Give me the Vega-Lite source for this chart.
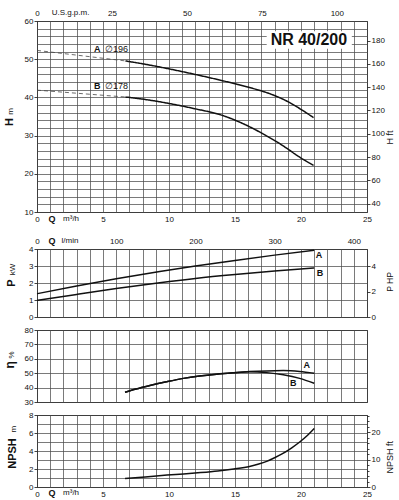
{
  "$schema": "https://vega.github.io/schema/vega-lite/v6.json",
  "background": "white",
  "padding": {"left": 3, "top": 8, "right": 5, "bottom": 5},
  "config": {
    "font": "Liberation Sans",
    "view": {"stroke": "#111", "strokeWidth": 1},
    "axis": {"domain": false, "labelFontSize": 8, "labelColor": "#111", "gridColor": "#4d4d4d", "gridWidth": 0.75, "tickColor": "#111", "tickWidth": 0.8, "tickSize": 3, "labelPadding": 1},
    "text": {"color": "#111"}
  },
  "datasets": {
    "head": [
      {"curve": "A", "part": "ext", "q": 0, "h": 52.3},
      {"curve": "A", "part": "ext", "q": 6.7, "h": 49.55},
      {"curve": "A", "part": "test", "q": 6.7, "h": 49.55},
      {"curve": "A", "part": "test", "q": 8.4, "h": 48.55},
      {"curve": "A", "part": "test", "q": 10.1, "h": 47.4},
      {"curve": "A", "part": "test", "q": 12, "h": 46.0},
      {"curve": "A", "part": "test", "q": 13.9, "h": 44.5},
      {"curve": "A", "part": "test", "q": 15.2, "h": 43.4},
      {"curve": "A", "part": "test", "q": 16.4, "h": 42.3},
      {"curve": "A", "part": "test", "q": 17.4, "h": 41.25},
      {"curve": "A", "part": "test", "q": 18.2, "h": 40.2},
      {"curve": "A", "part": "test", "q": 19.0, "h": 38.9},
      {"curve": "A", "part": "test", "q": 19.7, "h": 37.5},
      {"curve": "A", "part": "test", "q": 20.3, "h": 36.2},
      {"curve": "A", "part": "test", "q": 20.95, "h": 34.7},
      {"curve": "B", "part": "ext", "q": 0, "h": 41.9},
      {"curve": "B", "part": "ext", "q": 6.7, "h": 40.1},
      {"curve": "B", "part": "test", "q": 6.7, "h": 40.1},
      {"curve": "B", "part": "test", "q": 8.4, "h": 39.35},
      {"curve": "B", "part": "test", "q": 10.1, "h": 38.35},
      {"curve": "B", "part": "test", "q": 12, "h": 37.0},
      {"curve": "B", "part": "test", "q": 13.9, "h": 35.45},
      {"curve": "B", "part": "test", "q": 15.1, "h": 33.9},
      {"curve": "B", "part": "test", "q": 16.4, "h": 31.8},
      {"curve": "B", "part": "test", "q": 17.3, "h": 30.1},
      {"curve": "B", "part": "test", "q": 18.2, "h": 28.3},
      {"curve": "B", "part": "test", "q": 19.0, "h": 26.5},
      {"curve": "B", "part": "test", "q": 19.7, "h": 24.8},
      {"curve": "B", "part": "test", "q": 20.3, "h": 23.5},
      {"curve": "B", "part": "test", "q": 20.95, "h": 22.2}
    ],
    "power": [
      {"curve": "A", "q": 0, "p": 1.37},
      {"curve": "A", "q": 3, "p": 1.82},
      {"curve": "A", "q": 6, "p": 2.25},
      {"curve": "A", "q": 9.3, "p": 2.68},
      {"curve": "A", "q": 12, "p": 3.0},
      {"curve": "A", "q": 15, "p": 3.33},
      {"curve": "A", "q": 18, "p": 3.64},
      {"curve": "A", "q": 21, "p": 3.92},
      {"curve": "B", "q": 0, "p": 0.98},
      {"curve": "B", "q": 3, "p": 1.33},
      {"curve": "B", "q": 6, "p": 1.67},
      {"curve": "B", "q": 9.3, "p": 2.02},
      {"curve": "B", "q": 12, "p": 2.27},
      {"curve": "B", "q": 15, "p": 2.5},
      {"curve": "B", "q": 18, "p": 2.7},
      {"curve": "B", "q": 21, "p": 2.88}
    ],
    "eff": [
      {"curve": "A", "q": 6.67, "e": 36.8},
      {"curve": "A", "q": 7.5, "e": 39.0},
      {"curve": "A", "q": 8.55, "e": 41.4},
      {"curve": "A", "q": 9.8, "e": 44.0},
      {"curve": "A", "q": 11.1, "e": 46.4},
      {"curve": "A", "q": 12.3, "e": 48.0},
      {"curve": "A", "q": 13.6, "e": 49.3},
      {"curve": "A", "q": 14.9, "e": 50.3},
      {"curve": "A", "q": 16.1, "e": 51.1},
      {"curve": "A", "q": 17.4, "e": 51.6},
      {"curve": "A", "q": 18.66, "e": 51.8},
      {"curve": "A", "q": 19.9, "e": 51.2},
      {"curve": "A", "q": 21.0, "e": 50.0},
      {"curve": "B", "q": 6.67, "e": 36.8},
      {"curve": "B", "q": 7.5, "e": 39.0},
      {"curve": "B", "q": 8.55, "e": 41.4},
      {"curve": "B", "q": 9.8, "e": 44.0},
      {"curve": "B", "q": 11.1, "e": 46.4},
      {"curve": "B", "q": 12.3, "e": 48.0},
      {"curve": "B", "q": 13.6, "e": 49.3},
      {"curve": "B", "q": 14.9, "e": 50.3},
      {"curve": "B", "q": 16.1, "e": 51.0},
      {"curve": "B", "q": 17.4, "e": 50.4},
      {"curve": "B", "q": 18.66, "e": 48.9},
      {"curve": "B", "q": 19.9, "e": 46.4},
      {"curve": "B", "q": 21.0, "e": 43.0}
    ],
    "npsh": [
      {"q": 6.67, "n": 0.94},
      {"q": 8.2, "n": 1.12},
      {"q": 9.85, "n": 1.32},
      {"q": 11.1, "n": 1.45},
      {"q": 12.4, "n": 1.6},
      {"q": 13.7, "n": 1.78},
      {"q": 14.9, "n": 2.0},
      {"q": 16.1, "n": 2.28},
      {"q": 16.8, "n": 2.55},
      {"q": 17.4, "n": 2.85},
      {"q": 18.0, "n": 3.25},
      {"q": 18.6, "n": 3.7},
      {"q": 19.3, "n": 4.35},
      {"q": 19.9, "n": 5.0},
      {"q": 20.5, "n": 5.75},
      {"q": 21.0, "n": 6.5}
    ]
  },
  "spacing": 37,
  "bounds": "flush",
  "vconcat": [
    {
      "width": 330,
      "height": 191,
      "resolve": {"scale": {"x": "independent", "y": "independent"}},
      "layer": [
        {
          "data": {"values": [{}]},
          "layer": [
            {"mark": {"type": "rect", "fill": "white"}, "encoding": {"x": {"datum": 17.4, "type": "quantitative", "axis": null}, "x2": {"datum": 23.85}, "y": {"datum": 52.75, "type": "quantitative", "axis": null}, "y2": {"datum": 57.3}}},
            {
              "data": {"name": "head"},
              "mark": {"type": "line", "interpolate": "monotone"},
              "encoding": {
                "x": {"field": "q", "type": "quantitative", "scale": {"domain": [0, 25], "nice": false, "zero": false}, "axis": null},
                "y": {"field": "h", "type": "quantitative", "scale": {"domain": [10, 60], "nice": false, "zero": false}, "axis": null},
                "detail": {"field": "curve", "type": "nominal"},
                "strokeDash": {"field": "part", "type": "nominal", "scale": {"domain": ["test", "ext"], "range": [[1, 0], [4, 3]]}, "legend": null},
                "strokeWidth": {"field": "part", "type": "nominal", "scale": {"domain": ["test", "ext"], "range": [1.5, 0.8]}, "legend": null},
                "color": {"field": "part", "type": "nominal", "scale": {"domain": ["test", "ext"], "range": ["#111111", "#444444"]}, "legend": null}
              }
            },
            {"mark": {"type": "text", "text": "NR 40/200", "fontSize": 16, "fontWeight": "bold", "align": "center", "baseline": "middle"}, "encoding": {"x": {"datum": 20.6, "type": "quantitative", "axis": null}, "y": {"datum": 55.0, "type": "quantitative", "axis": null}}},
            {"mark": {"type": "text", "text": "A", "fontSize": 9, "fontWeight": "bold", "align": "left", "baseline": "middle"}, "encoding": {"x": {"datum": 4.32, "type": "quantitative", "axis": null}, "y": {"datum": 52.75, "type": "quantitative", "axis": null}}},
            {"mark": {"type": "text", "text": "∅196", "fontSize": 9, "align": "left", "baseline": "middle"}, "encoding": {"x": {"datum": 5.15, "type": "quantitative", "axis": null}, "y": {"datum": 52.75, "type": "quantitative", "axis": null}}},
            {"mark": {"type": "text", "text": "B", "fontSize": 9, "fontWeight": "bold", "align": "left", "baseline": "middle"}, "encoding": {"x": {"datum": 4.32, "type": "quantitative", "axis": null}, "y": {"datum": 43.0, "type": "quantitative", "axis": null}}},
            {"mark": {"type": "text", "text": "∅178", "fontSize": 9, "align": "left", "baseline": "middle"}, "encoding": {"x": {"datum": 5.15, "type": "quantitative", "axis": null}, "y": {"datum": 43.0, "type": "quantitative", "axis": null}}},
            {"mark": {"type": "text", "text": "U.S.g.p.m.", "fontSize": 8, "align": "center", "baseline": "middle"}, "encoding": {"x": {"datum": 2.54, "type": "quantitative", "axis": null}, "y": {"datum": 62.1, "type": "quantitative", "axis": null}}},
            {"mark": {"type": "text", "text": "Q", "fontSize": 9, "fontWeight": "bold", "align": "center", "baseline": "middle"}, "encoding": {"x": {"datum": 1.14, "type": "quantitative", "axis": null}, "y": {"datum": 8.1, "type": "quantitative", "axis": null}}},
            {"mark": {"type": "text", "text": "m³/h", "fontSize": 8, "align": "center", "baseline": "middle"}, "encoding": {"x": {"datum": 2.58, "type": "quantitative", "axis": null}, "y": {"datum": 8.1, "type": "quantitative", "axis": null}}},
            {"mark": {"type": "text", "text": "H", "fontSize": 11, "fontWeight": "bold", "align": "center", "baseline": "alphabetic", "angle": 270}, "encoding": {"x": {"datum": -1.84, "type": "quantitative", "axis": null}, "y": {"datum": 33.56, "type": "quantitative", "axis": null}}},
            {"mark": {"type": "text", "text": "m", "fontSize": 8, "align": "center", "baseline": "alphabetic", "angle": 270}, "encoding": {"x": {"datum": -1.84, "type": "quantitative", "axis": null}, "y": {"datum": 36.31, "type": "quantitative", "axis": null}}},
            {"mark": {"type": "text", "text": "H ft", "fontSize": 9, "align": "center", "baseline": "alphabetic", "angle": 270}, "encoding": {"x": {"datum": 26.97, "type": "quantitative", "axis": null}, "y": {"datum": 29.5, "type": "quantitative", "axis": null}}}
          ]
        },
        {
          "data": {"name": "head"},
          "mark": {"type": "point", "opacity": 0},
          "encoding": {
            "x": {"field": "q", "type": "quantitative", "scale": {"domain": [0, 25], "nice": false, "zero": false},
              "axis": {"orient": "bottom", "values": [0,1,2,3,4,5,6,7,8,9,10,11,12,13,14,15,16,17,18,19,20,21,22,23,24,25], "grid": true, "ticks": false, "labelExpr": "datum.value % 5 === 0 ? datum.label : ''", "labelFlush": false, "labelOverlap": false, "labelPadding": 3, "title": null}},
            "y": {"field": "h", "type": "quantitative", "scale": {"domain": [10, 60], "nice": false, "zero": false},
              "axis": {"orient": "left", "values": [10,12,14,16,18,20,22,24,26,28,30,32,34,36,38,40,42,44,46,48,50,52,54,56,58,60], "grid": true, "tickOpacity": {"condition": {"test": "datum.value % 10 === 0", "value": 1}, "value": 0}, "labelExpr": "datum.value % 10 === 0 ? datum.label : ''", "labelOverlap": false, "title": null}}
          }
        },
        {
          "data": {"name": "head"},
          "mark": {"type": "point", "opacity": 0},
          "encoding": {
            "x": {"field": "q", "type": "quantitative", "scale": {"domain": [0, 110.07], "nice": false, "zero": false},
              "axis": {"orient": "top", "values": [0, 25, 50, 75, 100], "grid": false, "ticks": false, "labelFlush": false, "labelOverlap": false, "labelPadding": 4, "title": null}},
            "y": {"field": "h", "type": "quantitative", "scale": {"domain": [32.81, 196.85], "nice": false, "zero": false},
              "axis": {"orient": "right", "values": [40, 60, 80, 100, 120, 140, 160, 180], "grid": false, "labelOverlap": false, "title": null}}
          }
        }
      ]
    },
    {
      "spacing": 13,
      "bounds": "flush",
      "vconcat": [
        {
          "width": 330,
          "height": 68,
          "resolve": {"scale": {"x": "independent", "y": "independent"}},
          "layer": [
            {
              "data": {"values": [{}]},
              "layer": [
                {
                  "data": {"name": "power"},
                  "mark": {"type": "line", "interpolate": "monotone", "color": "#111", "strokeWidth": 1.5},
                  "encoding": {
                    "x": {"field": "q", "type": "quantitative", "scale": {"domain": [0, 25], "nice": false, "zero": false}, "axis": null},
                    "y": {"field": "p", "type": "quantitative", "scale": {"domain": [0, 4], "nice": false, "zero": false}, "axis": null},
                    "detail": {"field": "curve", "type": "nominal"}
                  }
                },
                {"mark": {"type": "text", "text": "Q", "fontSize": 9, "fontWeight": "bold", "align": "center", "baseline": "middle"}, "encoding": {"x": {"datum": 1.14, "type": "quantitative", "axis": null}, "y": {"datum": 4.5, "type": "quantitative", "axis": null}}},
                {"mark": {"type": "text", "text": "l/min", "fontSize": 8, "align": "center", "baseline": "middle"}, "encoding": {"x": {"datum": 2.5, "type": "quantitative", "axis": null}, "y": {"datum": 4.5, "type": "quantitative", "axis": null}}},
                {"mark": {"type": "text", "text": "A", "fontSize": 9, "fontWeight": "bold", "align": "center", "baseline": "middle"}, "encoding": {"x": {"datum": 21.36, "type": "quantitative", "axis": null}, "y": {"datum": 3.65, "type": "quantitative", "axis": null}}},
                {"mark": {"type": "text", "text": "B", "fontSize": 9, "fontWeight": "bold", "align": "center", "baseline": "middle"}, "encoding": {"x": {"datum": 21.44, "type": "quantitative", "axis": null}, "y": {"datum": 2.6, "type": "quantitative", "axis": null}}},
                {"mark": {"type": "text", "text": "P", "fontSize": 11, "fontWeight": "bold", "align": "center", "baseline": "alphabetic", "angle": 270}, "encoding": {"x": {"datum": -1.63, "type": "quantitative", "axis": null}, "y": {"datum": 2.0, "type": "quantitative", "axis": null}}},
                {"mark": {"type": "text", "text": "kW", "fontSize": 8, "align": "center", "baseline": "alphabetic", "angle": 270}, "encoding": {"x": {"datum": -1.63, "type": "quantitative", "axis": null}, "y": {"datum": 2.79, "type": "quantitative", "axis": null}}},
                {"mark": {"type": "text", "text": "P HP", "fontSize": 8.5, "align": "center", "baseline": "alphabetic", "angle": 270}, "encoding": {"x": {"datum": 26.97, "type": "quantitative", "axis": null}, "y": {"datum": 2.06, "type": "quantitative", "axis": null}}}
              ]
            },
            {
              "data": {"name": "power"},
              "mark": {"type": "point", "opacity": 0},
              "encoding": {
                "x": {"field": "q", "type": "quantitative", "scale": {"domain": [0, 25], "nice": false, "zero": false},
                  "axis": {"orient": "bottom", "values": [0,1,2,3,4,5,6,7,8,9,10,11,12,13,14,15,16,17,18,19,20,21,22,23,24,25], "grid": true, "ticks": false, "labels": false, "title": null}},
                "y": {"field": "p", "type": "quantitative", "scale": {"domain": [0, 4], "nice": false, "zero": false},
                  "axis": {"orient": "left", "values": [0, 1, 2, 3, 4], "grid": true, "labelOverlap": false, "title": null}}
              }
            },
            {
              "data": {"name": "power"},
              "mark": {"type": "point", "opacity": 0},
              "encoding": {
                "x": {"field": "q", "type": "quantitative", "scale": {"domain": [0, 416.67], "nice": false, "zero": false},
                  "axis": {"orient": "top", "values": [0, 100, 200, 300, 400], "grid": false, "ticks": false, "labelFlush": false, "labelOverlap": false, "labelPadding": 4, "title": null}},
                "y": {"field": "p", "type": "quantitative", "scale": {"domain": [0, 5.364], "nice": false, "zero": false},
                  "axis": {"orient": "right", "values": [0, 2, 4], "grid": false, "labelOverlap": false, "title": null}}
              }
            }
          ]
        },
        {
          "width": 330,
          "height": 72,
          "resolve": {"scale": {"x": "independent", "y": "independent"}},
          "layer": [
            {
              "data": {"values": [{}]},
              "layer": [
                {
                  "data": {"name": "eff"},
                  "mark": {"type": "line", "interpolate": "monotone", "color": "#111", "strokeWidth": 1.5},
                  "encoding": {
                    "x": {"field": "q", "type": "quantitative", "scale": {"domain": [0, 25], "nice": false, "zero": false}, "axis": null},
                    "y": {"field": "e", "type": "quantitative", "scale": {"domain": [30, 80], "nice": false, "zero": false}, "axis": null},
                    "detail": {"field": "curve", "type": "nominal"}
                  }
                },
                {"mark": {"type": "text", "text": "A", "fontSize": 9, "fontWeight": "bold", "align": "center", "baseline": "middle"}, "encoding": {"x": {"datum": 20.43, "type": "quantitative", "axis": null}, "y": {"datum": 55.7, "type": "quantitative", "axis": null}}},
                {"mark": {"type": "text", "text": "B", "fontSize": 9, "fontWeight": "bold", "align": "center", "baseline": "middle"}, "encoding": {"x": {"datum": 19.42, "type": "quantitative", "axis": null}, "y": {"datum": 43.0, "type": "quantitative", "axis": null}}},
                {"mark": {"type": "text", "text": "η", "fontSize": 12, "fontWeight": "bold", "align": "center", "baseline": "alphabetic", "angle": 270}, "encoding": {"x": {"datum": -1.74, "type": "quantitative", "axis": null}, "y": {"datum": 55.9, "type": "quantitative", "axis": null}}},
                {"mark": {"type": "text", "text": "%", "fontSize": 8, "align": "center", "baseline": "alphabetic", "angle": 270}, "encoding": {"x": {"datum": -1.74, "type": "quantitative", "axis": null}, "y": {"datum": 62.7, "type": "quantitative", "axis": null}}}
              ]
            },
            {
              "data": {"name": "eff"},
              "mark": {"type": "point", "opacity": 0},
              "encoding": {
                "x": {"field": "q", "type": "quantitative", "scale": {"domain": [0, 25], "nice": false, "zero": false},
                  "axis": {"orient": "bottom", "values": [0,1,2,3,4,5,6,7,8,9,10,11,12,13,14,15,16,17,18,19,20,21,22,23,24,25], "grid": true, "ticks": false, "labels": false, "title": null}},
                "y": {"field": "e", "type": "quantitative", "scale": {"domain": [30, 80], "nice": false, "zero": false},
                  "axis": {"orient": "left", "values": [30, 40, 50, 60, 70, 80], "grid": true, "labelOverlap": false, "title": null}}
              }
            }
          ]
        },
        {
          "width": 330,
          "height": 72,
          "resolve": {"scale": {"x": "independent", "y": "independent"}},
          "layer": [
            {
              "data": {"values": [{}]},
              "layer": [
                {
                  "data": {"name": "npsh"},
                  "mark": {"type": "line", "interpolate": "monotone", "color": "#111", "strokeWidth": 1.5},
                  "encoding": {
                    "x": {"field": "q", "type": "quantitative", "scale": {"domain": [0, 25], "nice": false, "zero": false}, "axis": null},
                    "y": {"field": "n", "type": "quantitative", "scale": {"domain": [0, 8], "nice": false, "zero": false}, "axis": null}
                  }
                },
                {"mark": {"type": "text", "text": "Q", "fontSize": 9, "fontWeight": "bold", "align": "center", "baseline": "middle"}, "encoding": {"x": {"datum": 1.14, "type": "quantitative", "axis": null}, "y": {"datum": -0.71, "type": "quantitative", "axis": null}}},
                {"mark": {"type": "text", "text": "m³/h", "fontSize": 8, "align": "center", "baseline": "middle"}, "encoding": {"x": {"datum": 2.58, "type": "quantitative", "axis": null}, "y": {"datum": -0.71, "type": "quantitative", "axis": null}}},
                {"mark": {"type": "text", "text": "NPSH", "fontSize": 11, "fontWeight": "bold", "align": "center", "baseline": "alphabetic", "angle": 270}, "encoding": {"x": {"datum": -1.61, "type": "quantitative", "axis": null}, "y": {"datum": 3.72, "type": "quantitative", "axis": null}}},
                {"mark": {"type": "text", "text": "m", "fontSize": 8, "align": "center", "baseline": "alphabetic", "angle": 270}, "encoding": {"x": {"datum": -1.61, "type": "quantitative", "axis": null}, "y": {"datum": 6.42, "type": "quantitative", "axis": null}}},
                {"mark": {"type": "text", "text": "NPSH ft", "fontSize": 9, "align": "center", "baseline": "alphabetic", "angle": 270}, "encoding": {"x": {"datum": 26.97, "type": "quantitative", "axis": null}, "y": {"datum": 3.3, "type": "quantitative", "axis": null}}}
              ]
            },
            {
              "data": {"name": "npsh"},
              "mark": {"type": "point", "opacity": 0},
              "encoding": {
                "x": {"field": "q", "type": "quantitative", "scale": {"domain": [0, 25], "nice": false, "zero": false},
                  "axis": {"orient": "bottom", "values": [0,1,2,3,4,5,6,7,8,9,10,11,12,13,14,15,16,17,18,19,20,21,22,23,24,25], "grid": true, "ticks": false, "labelExpr": "datum.value % 5 === 0 ? datum.label : ''", "labelFlush": false, "labelOverlap": false, "labelPadding": 3, "title": null}},
                "y": {"field": "n", "type": "quantitative", "scale": {"domain": [0, 8], "nice": false, "zero": false},
                  "axis": {"orient": "left", "values": [0, 1, 2, 3, 4, 5, 6, 7, 8], "grid": true, "tickOpacity": {"condition": {"test": "datum.value % 2 === 0", "value": 1}, "value": 0}, "labelExpr": "datum.value % 2 === 0 ? datum.label : ''", "labelOverlap": false, "title": null}}
              }
            },
            {
              "data": {"name": "npsh"},
              "mark": {"type": "point", "opacity": 0},
              "encoding": {
                "y": {"field": "n", "type": "quantitative", "scale": {"domain": [0, 26.25], "nice": false, "zero": false},
                  "axis": {"orient": "right", "values": [0, 2, 4, 6, 8, 10, 12, 14, 16, 18, 20, 22, 24, 26], "grid": false, "labelExpr": "datum.value % 10 === 0 ? datum.label : ''", "tickSize": {"condition": {"test": "datum.value % 10 === 0", "value": 3}, "value": 2}, "labelOverlap": false, "title": null}}
              }
            }
          ]
        }
      ]
    }
  ]
}
